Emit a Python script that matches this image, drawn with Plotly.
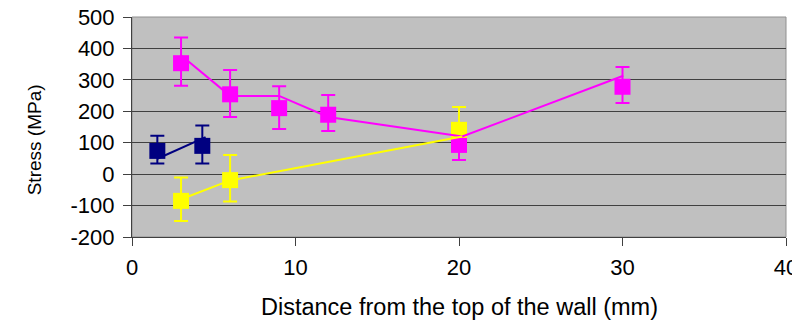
import plotly.graph_objects as go

# Marker series (measured points with error bars)
navy_x = [1.55, 4.3]
navy_y = [74, 90]
navy_plus = [48, 65]
navy_minus = [40, 56]

mag_x = [3, 6, 9, 12, 20, 30]
mag_y = [353, 254, 210, 189, 93, 278]
mag_plus = [82, 77, 70, 63, 48, 63]
mag_minus = [72, 72, 66, 52, 48, 52]

yel_x = [3, 6, 20]
yel_y = [-85, -19, 141]
yel_plus = [74, 80, 73]
yel_minus = [64, 68, 10]

# Line series
navy_line_x = [1.55, 4.5]
navy_line_y = [49, 118]
mag_line_x = [3.05, 6, 9, 12, 20.2, 30.05]
mag_line_y = [376, 249, 249, 182, 120, 313]
yel_line_x = [3, 6, 20.2]
yel_line_y = [-80, -20, 120]

x_ticks = [0, 10, 20, 30, 40]
y_ticks = [-200, -100, 0, 100, 200, 300, 400, 500]

NAVY = "#000080"
MAG = "#FF00FF"
YEL = "#FFFF00"

fig = go.Figure()


def markers(x, y, p, m, color):
    fig.add_trace(go.Scatter(
        x=x, y=y, mode="markers",
        marker=dict(symbol="square", size=16, color=color, line=dict(width=0)),
        error_y=dict(type="data", symmetric=False, array=p, arrayminus=m,
                     color=color, thickness=2, width=7),
        showlegend=False, hoverinfo="skip"))


def line(x, y, color):
    fig.add_trace(go.Scatter(x=x, y=y, mode="lines",
                             line=dict(color=color, width=2),
                             showlegend=False, hoverinfo="skip"))


markers(mag_x, mag_y, mag_plus, mag_minus, MAG)
markers(yel_x, yel_y, yel_plus, yel_minus, YEL)
markers(navy_x, navy_y, navy_plus, navy_minus, NAVY)
line(mag_line_x, mag_line_y, MAG)
line(yel_line_x, yel_line_y, YEL)
line(navy_line_x, navy_line_y, NAVY)

font = "Liberation Sans, Arial, sans-serif"

fig.update_layout(
    width=800, height=320,
    margin=dict(l=123.5, r=22, t=9.3, b=90.7, autoexpand=False),
    paper_bgcolor="white", plot_bgcolor="#C0C0C0",
    font=dict(family=font, color="black", size=22),
    shapes=[dict(type="rect", xref="paper", yref="paper", x0=0, x1=1, y0=0, y1=1,
                 line=dict(color="#909090", width=1), layer="below")],
    annotations=[
        dict(text="Distance from the top of the wall (mm)", xref="paper", yref="paper",
             x=0.5, y=-0.319, xanchor="center", yanchor="middle", showarrow=False,
             font=dict(size=23.5, family=font)),
        dict(text="Stress (MPa)", xref="paper", yref="paper", textangle=-90,
             x=-0.149, y=0.442, xanchor="center", yanchor="middle", showarrow=False,
             font=dict(size=19, family=font)),
    ],
)
fig.update_xaxes(range=[0, 40], tickvals=x_ticks, ticktext=[str(v) for v in x_ticks],
                 showgrid=False, zeroline=False, showline=True, linecolor="#404040",
                 linewidth=1, ticks="outside", ticklen=8, tickcolor="#404040",
                 ticklabelstandoff=3, tickfont=dict(size=22), automargin=False,
                 ticklabeloverflow="allow")
fig.update_yaxes(range=[-200, 500], tickvals=y_ticks, ticktext=[str(v) for v in y_ticks],
                 showgrid=True, gridcolor="#404040", gridwidth=1, zeroline=False,
                 showline=True, linecolor="#404040", linewidth=1,
                 ticks="outside", ticklen=8, tickcolor="#404040",
                 ticklabelstandoff=4, tickfont=dict(size=22), automargin=False,
                 ticklabeloverflow="allow")

fig.write_html("out.html")
